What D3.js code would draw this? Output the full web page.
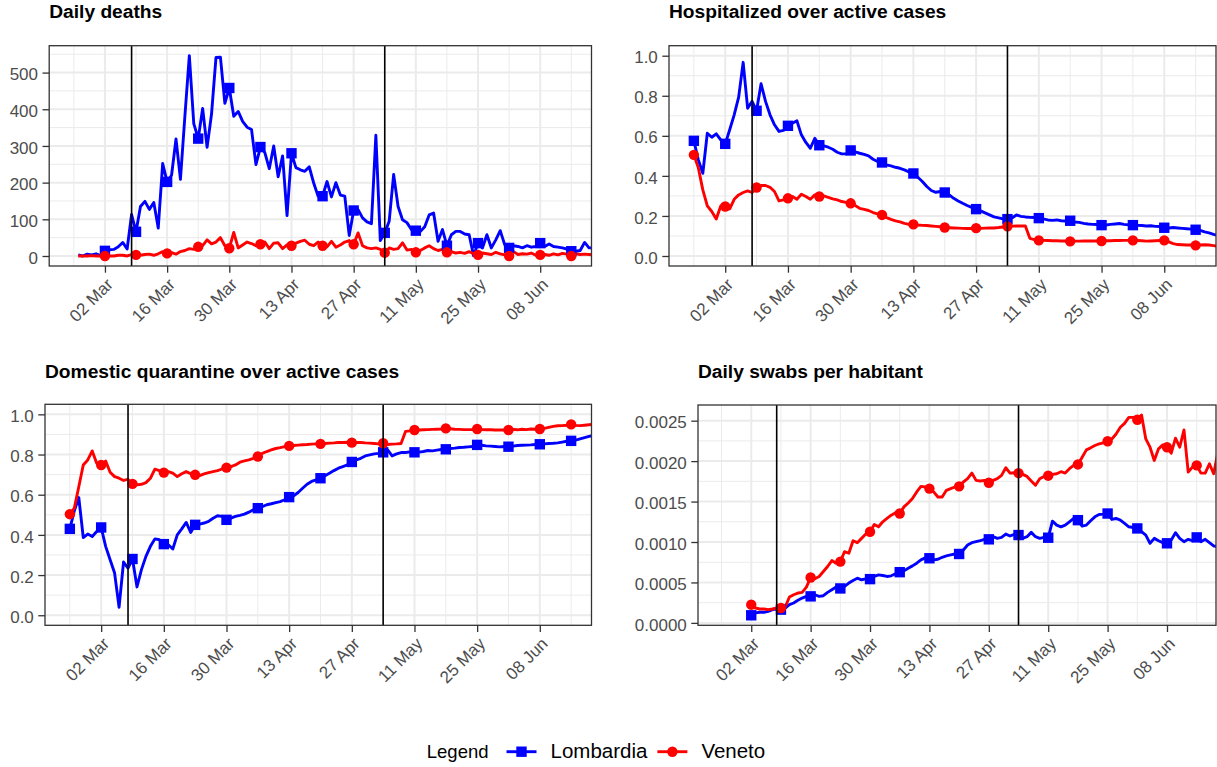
<!DOCTYPE html>
<html>
<head>
<meta charset="utf-8">
<script src="https://cdn.jsdelivr.net/npm/d3@7"></script>
<style>
  body { margin: 0; background: #ffffff; }
  svg { display: block; }
  text { font-family: "Liberation Sans", Arial, Helvetica, sans-serif; }
</style>
</head>
<body>
<svg id="chart" width="1217" height="767"></svg>
<script>
// ---- Data -------------------------------------------------------------
const seriesNames = ["Lombardia", "Veneto"];
const seriesColors = ["#0000FF", "#FF0000"];

const xLimits = ["2020-02-24", "2020-06-14"];
const phaseDates = ["2020-03-08", "2020-05-04"];
const xTickDates = ["2020-03-02", "2020-03-16", "2020-03-30", "2020-04-13",
                    "2020-04-27", "2020-05-11", "2020-05-25", "2020-06-08"];
const markerOrigin = "2020-02-24";   // a marker every 7 days from this date

// Daily deaths, from 25 Feb
const deathsStart = "2020-02-25";
const deathsLombardia = [
  3, 0, 5, 3, 6,
  1, 14, 17, 18, 25, 37, 19, 113, 66, 135, 149, 127, 146, 76, 252, 202, 220, 319, 209, 381, 546, 361, 320, 402, 296, 387, 541, 542, 416, 458, 381,
  394, 367, 351, 345, 249, 297, 282, 238, 300, 216, 273, 110, 280, 241, 235, 231, 243, 199, 163, 163, 203, 161, 200, 166, 163, 56, 124, 126, 104, 93,
  88, 329, 42, 63, 95, 222, 135, 99, 91, 72, 69, 67, 80, 112, 117, 40, 72, 28, 58, 67, 67, 60, 58, 1, 35, 22, 58, 22, 44, 69, 31,
  22, 28, 26, 22, 28, 24, 26, 35, 26, 33, 26, 24, 22, 19, 13, 13, 15, 37, 22, 22
];
const deathsVeneto = [
  0, 0, 0, 1, 0,
  0, 0, 0, 0, 2, 2, 0, 4, 3, 2, 4, 5, 2, 6, 12, 7, 9, 5, 12, 15, 20, 18, 25, 28, 44, 33, 38, 50, 28, 21, 64,
  22, 30, 38, 34, 28, 32, 38, 20, 35, 36, 20, 30, 28, 35, 40, 43, 32, 28, 38, 28, 25, 40, 24, 30, 38, 42, 32, 63, 28, 22,
  20, 22, 18, 9, 22, 18, 20, 36, 16, 18, 10, 15, 22, 28, 20, 15, 18, 10, 12, 8, 10, 7, 12, 6, 3, 8, 6, 4, 10, 6, 3,
  0, 12, 4, 6, 5, 8, 2, 3, 4, 2, 6, 3, 7, 5, 0, 6, 4, 5, 4, 3
];

// Hospitalized over active cases, from 24 Feb
const ratioStart = "2020-02-24";
const hospLombardia = [
  0.575, 0.48, 0.413, 0.613, 0.593, 0.61,
  0.58, 0.56, 0.63, 0.705, 0.793, 0.967, 0.738, 0.772, 0.725, 0.86, 0.772, 0.705, 0.655, 0.622, 0.627, 0.65, 0.663, 0.675, 0.605, 0.567, 0.538, 0.588, 0.553, 0.55, 0.543, 0.533, 0.518, 0.51, 0.51, 0.527, 0.52,
  0.513, 0.507, 0.5, 0.483, 0.472, 0.467, 0.455, 0.45, 0.443, 0.438, 0.43, 0.42, 0.412, 0.393, 0.372, 0.347, 0.327, 0.318, 0.322, 0.317, 0.305, 0.288, 0.275, 0.263, 0.252, 0.243, 0.234, 0.225, 0.215, 0.205,
  0.195, 0.19, 0.185, 0.184, 0.19, 0.205, 0.198, 0.195, 0.193, 0.192, 0.189, 0.185, 0.18, 0.178, 0.18, 0.176, 0.175, 0.176, 0.17, 0.168, 0.163, 0.16, 0.158, 0.157, 0.154, 0.155, 0.158, 0.16, 0.162, 0.158, 0.156,
  0.154, 0.153, 0.152, 0.15, 0.151, 0.148, 0.147, 0.141, 0.14, 0.142, 0.14, 0.138, 0.136, 0.134, 0.131, 0.128, 0.12, 0.115, 0.108, 0.102
];
const hospVeneto = [
  0.505, 0.44, 0.33, 0.25, 0.222, 0.185,
  0.25, 0.247, 0.235, 0.283, 0.305, 0.317, 0.325, 0.317, 0.342, 0.352, 0.352, 0.343, 0.322, 0.275, 0.28, 0.288, 0.297, 0.283, 0.308, 0.297, 0.283, 0.305, 0.297, 0.3, 0.293, 0.285, 0.28, 0.272, 0.268, 0.263, 0.252,
  0.238, 0.233, 0.227, 0.217, 0.21, 0.205, 0.192, 0.183, 0.175, 0.17, 0.163, 0.158, 0.158, 0.155, 0.153, 0.152, 0.15, 0.148, 0.146, 0.142, 0.141, 0.14, 0.139, 0.138, 0.137, 0.137, 0.139, 0.138, 0.139, 0.14,
  0.14, 0.142, 0.145, 0.148, 0.149, 0.15, 0.15, 0.15, 0.088, 0.082, 0.078, 0.078, 0.077, 0.076, 0.076, 0.075, 0.075, 0.073, 0.074, 0.074, 0.075, 0.075, 0.075, 0.075, 0.075, 0.076, 0.076, 0.077, 0.077, 0.078, 0.078,
  0.078, 0.077, 0.076, 0.074, 0.075, 0.076, 0.077, 0.078, 0.07, 0.062, 0.057, 0.056, 0.055, 0.055, 0.053, 0.055, 0.056, 0.055, 0.052, 0.048
];

// Domestic quarantine over active cases, from 24 Feb
const quarLombardia = [
  0.43, 0.52, 0.586, 0.387, 0.404, 0.392,
  0.417, 0.437, 0.343, 0.276, 0.21, 0.04, 0.265, 0.235, 0.28, 0.141, 0.227, 0.293, 0.343, 0.38, 0.376, 0.354, 0.351, 0.33, 0.4, 0.43, 0.462, 0.412, 0.45, 0.454, 0.459, 0.467, 0.483, 0.495, 0.492, 0.475, 0.483,
  0.492, 0.497, 0.503, 0.513, 0.525, 0.533, 0.541, 0.55, 0.555, 0.561, 0.566, 0.575, 0.588, 0.594, 0.611, 0.632, 0.652, 0.666, 0.674, 0.682, 0.694, 0.707, 0.72, 0.732, 0.74, 0.748, 0.763, 0.773, 0.781, 0.793,
  0.798, 0.803, 0.806, 0.811, 0.823, 0.793, 0.803, 0.81, 0.81, 0.813, 0.811, 0.812, 0.815, 0.82, 0.818, 0.822, 0.825, 0.826, 0.83, 0.832, 0.835, 0.836, 0.838, 0.84, 0.848, 0.846, 0.843, 0.842, 0.84, 0.838, 0.84,
  0.839, 0.842, 0.845, 0.846, 0.847, 0.848, 0.85, 0.851, 0.853, 0.855, 0.856, 0.858, 0.862, 0.866, 0.868, 0.872, 0.878, 0.884, 0.89, 0.896
];
const quarVeneto = [
  0.503, 0.533, 0.64, 0.748, 0.773, 0.818,
  0.757, 0.748, 0.768, 0.712, 0.69, 0.682, 0.671, 0.676, 0.654, 0.649, 0.652, 0.66, 0.682, 0.727, 0.72, 0.71, 0.715, 0.707, 0.69, 0.704, 0.715, 0.704, 0.699, 0.695, 0.704, 0.71, 0.715, 0.72, 0.728, 0.735, 0.74,
  0.748, 0.762, 0.768, 0.773, 0.781, 0.79, 0.806, 0.815, 0.823, 0.83, 0.834, 0.839, 0.843, 0.845, 0.847, 0.849, 0.85, 0.852, 0.853, 0.853, 0.855, 0.857, 0.858, 0.86, 0.86, 0.861, 0.859, 0.86, 0.86, 0.858,
  0.857, 0.855, 0.853, 0.856, 0.85, 0.852, 0.853, 0.855, 0.915, 0.918, 0.922, 0.922, 0.923, 0.924, 0.925, 0.926, 0.927, 0.93, 0.928, 0.926, 0.925, 0.924, 0.924, 0.924, 0.927, 0.924, 0.923, 0.923, 0.922, 0.922, 0.922,
  0.922, 0.925, 0.923, 0.926, 0.924, 0.927, 0.926, 0.927, 0.93, 0.935, 0.94, 0.943, 0.944, 0.946, 0.95, 0.945, 0.944, 0.946, 0.948, 0.95
];

// Daily swabs per habitant, from 2 Mar
const swabsStart = "2020-03-02";
const swabsLombardia = [
  0.000094, 0.000123, 0.000131, 0.000131, 0.000143, 0.000164, 0.000172, 0.000164, 0.000184, 0.000225, 0.000246, 0.000279, 0.000307, 0.000328, 0.000328, 0.000348, 0.000328, 0.000336, 0.000377, 0.00041, 0.000443, 0.000426, 0.000451, 0.000492, 0.000525, 0.000553, 0.000533, 0.000545, 0.000541, 0.000574,
  0.000594, 0.000586, 0.000574, 0.000582, 0.000607, 0.000627, 0.000643, 0.000676, 0.000705, 0.000738, 0.000779, 0.000803, 0.000799, 0.000779, 0.000787, 0.000811, 0.000828, 0.00084, 0.000852, 0.000852, 0.000902, 0.000963, 0.000992, 0.001004, 0.001016, 0.001033, 0.001033, 0.001066, 0.001045, 0.001057,
  0.001098, 0.001074, 0.001094, 0.001086, 0.001045, 0.001066, 0.001119, 0.001066, 0.001045, 0.001057, 0.001053, 0.001258, 0.001209, 0.001188, 0.001209, 0.00125, 0.001291, 0.00127, 0.001197, 0.001209, 0.001262, 0.001311, 0.00134, 0.001344, 0.001352, 0.001279, 0.001291, 0.00127, 0.001229, 0.001188, 0.00118,
  0.001168, 0.001127, 0.001086, 0.000984, 0.001045, 0.001016, 0.000992, 0.000984, 0.001025, 0.001115, 0.001045, 0.001004, 0.001033, 0.001016, 0.001057, 0.001004, 0.001033, 0.000992, 0.000951, 0.000943
];
const swabsVeneto = [
  0.000225, 0.000184, 0.000172, 0.000172, 0.000164, 0.000172, 0.000184, 0.000184, 0.000197, 0.00032, 0.000348, 0.000369, 0.000377, 0.000443, 0.000561, 0.000545, 0.000574, 0.000635, 0.000697, 0.00077, 0.000738, 0.000758, 0.000881, 0.000861, 0.001016, 0.000992, 0.001045, 0.001098, 0.001127, 0.001217,
  0.001188, 0.00125, 0.001291, 0.001332, 0.001361, 0.001352, 0.001434, 0.001483, 0.001537, 0.001619, 0.001688, 0.00168, 0.00166, 0.001619, 0.001557, 0.001557, 0.001639, 0.00166, 0.00168, 0.001688, 0.001742, 0.001783, 0.001852, 0.001762, 0.001754, 0.001762, 0.001733, 0.001762, 0.001783, 0.001824,
  0.001918, 0.001852, 0.001856, 0.001852, 0.001836, 0.001811, 0.001754, 0.001701, 0.001783, 0.001811, 0.00182, 0.001836, 0.001844, 0.001869, 0.001852, 0.001906, 0.001947, 0.001959, 0.002049, 0.002139, 0.002164, 0.002193, 0.002213, 0.002225, 0.002246, 0.002274, 0.002336, 0.002418, 0.002467, 0.002541, 0.002541,
  0.002512, 0.00257, 0.002274, 0.002172, 0.002008, 0.002152, 0.002201, 0.002172, 0.002098, 0.002283, 0.002172, 0.002385, 0.001865, 0.001926, 0.001947, 0.001852, 0.001852, 0.001967, 0.001844, 0.00211
];

const deathsTicks = [0, 100, 200, 300, 400, 500];
const ratioTicks = [0, 0.2, 0.4, 0.6, 0.8, 1.0];
const swabsTicks = [0, 0.0005, 0.001, 0.0015, 0.002, 0.0025];

// ---- Layout -----------------------------------------------------------
const parseDay = d3.timeParse("%Y-%m-%d");
const svg = d3.select("#chart");

const panels = [
  { title: "Daily deaths", start: deathsStart, series: [deathsLombardia, deathsVeneto],
    yFixed: null, yTicks: deathsTicks, fmt: d3.format("d"),
    box: { x0: 49.2, x1: 591.5, y0: 45.7, y1: 266 }, titleY: 18.3 },
  { title: "Hospitalized over active cases", start: ratioStart, series: [hospLombardia, hospVeneto],
    yFixed: [0, 1], yTicks: ratioTicks, fmt: d3.format(".1f"),
    box: { x0: 669, x1: 1216, y0: 45.7, y1: 266 }, titleY: 18.3 },
  { title: "Domestic quarantine over active cases", start: ratioStart, series: [quarLombardia, quarVeneto],
    yFixed: [0, 1], yTicks: ratioTicks, fmt: d3.format(".1f"),
    box: { x0: 45, x1: 591.5, y0: 404.3, y1: 625.3 }, titleY: 377.5 },
  { title: "Daily swabs per habitant", start: swabsStart, series: [swabsLombardia, swabsVeneto],
    yFixed: null, yTicks: swabsTicks, fmt: d3.format(".4f"),
    box: { x0: 698, x1: 1216, y0: 405, y1: 625.3 }, titleY: 378.3 }
];

const GRID = "#EBEBEB", INK = "#333333", LABEL = "#4D4D4D";
const TICK = 6.7;
const LINE_W = 2.9;

// ggplot-like 5% expansion of a continuous range
function expand(lo, hi, f = 0.05) {
  const pad = (hi - lo) * f;
  return [lo - pad, hi + pad];
}

const xLo = parseDay(xLimits[0]), xHi = parseDay(xLimits[1]);
const xSpan = xHi - xLo;
const xDomain = [new Date(+xLo - xSpan * 0.05), new Date(+xHi + xSpan * 0.05)];
const xMajor = xTickDates.map(parseDay);
const xMinor = xMajor.map(d => d3.timeDay.offset(d, -7))
  .concat([d3.timeDay.offset(xMajor[xMajor.length - 1], 7)])
  .filter(d => d >= xDomain[0] && d <= xDomain[1]);
const origin = parseDay(markerOrigin);

panels.forEach((p, pi) => {
  const b = p.box;
  const g = svg.append("g");
  const start = parseDay(p.start);

  const data = p.series.map(vals => vals.map((v, i) => ({ date: d3.timeDay.offset(start, i), v })));
  const all = p.series.flat();
  const yDomain = p.yFixed ? expand(p.yFixed[0], p.yFixed[1]) : expand(d3.min(all), d3.max(all));

  const x = d3.scaleTime().domain(xDomain).range([b.x0, b.x1]);
  const y = d3.scaleLinear().domain(yDomain).range([b.y1, b.y0]);

  const step = p.yTicks[1] - p.yTicks[0];
  const yMinor = [p.yTicks[0] - step / 2].concat(p.yTicks.map(t => t + step / 2))
    .filter(v => v >= yDomain[0] && v <= yDomain[1]);

  const clipId = "clip" + pi;
  svg.append("clipPath").attr("id", clipId)
    .append("rect").attr("x", b.x0).attr("y", b.y0)
    .attr("width", b.x1 - b.x0).attr("height", b.y1 - b.y0);

  const grid = g.append("g");
  grid.selectAll(".vmin").data(xMinor).join("line")
    .attr("x1", d => x(d)).attr("x2", d => x(d)).attr("y1", b.y0).attr("y2", b.y1)
    .attr("stroke", GRID).attr("stroke-width", 1);
  grid.selectAll(".hmin").data(yMinor).join("line")
    .attr("x1", b.x0).attr("x2", b.x1).attr("y1", d => y(d)).attr("y2", d => y(d))
    .attr("stroke", GRID).attr("stroke-width", 1);
  grid.selectAll(".vmaj").data(xMajor).join("line")
    .attr("x1", d => x(d)).attr("x2", d => x(d)).attr("y1", b.y0).attr("y2", b.y1)
    .attr("stroke", GRID).attr("stroke-width", 2);
  grid.selectAll(".hmaj").data(p.yTicks).join("line")
    .attr("x1", b.x0).attr("x2", b.x1).attr("y1", d => y(d)).attr("y2", d => y(d))
    .attr("stroke", GRID).attr("stroke-width", 2);

  const plot = g.append("g").attr("clip-path", `url(#${clipId})`);
  const line = d3.line().x(d => x(d.date)).y(d => y(d.v));

  data.forEach((s, si) => {
    plot.append("path").datum(s)
      .attr("d", line).attr("fill", "none")
      .attr("stroke", seriesColors[si]).attr("stroke-width", LINE_W)
      .attr("stroke-linejoin", "round").attr("stroke-linecap", "butt");
  });

  data.forEach((s, si) => {
    const pts = s.filter(d => Math.round((d.date - origin) / 864e5) % 7 === 0);
    if (si === 0) {
      plot.selectAll(null).data(pts).join("rect")
        .attr("x", d => x(d.date) - 5.2).attr("y", d => y(d.v) - 5.2)
        .attr("width", 10.4).attr("height", 10.4).attr("fill", seriesColors[si]);
    } else {
      plot.selectAll(null).data(pts).join("circle")
        .attr("cx", d => x(d.date)).attr("cy", d => y(d.v)).attr("r", 5.2)
        .attr("fill", seriesColors[si]);
    }
  });

  plot.selectAll(".phase").data(phaseDates.map(parseDay)).join("line")
    .attr("x1", d => x(d)).attr("x2", d => x(d)).attr("y1", b.y0).attr("y2", b.y1)
    .attr("stroke", "#000000").attr("stroke-width", 1.6);

  g.append("rect").attr("x", b.x0).attr("y", b.y0)
    .attr("width", b.x1 - b.x0).attr("height", b.y1 - b.y0)
    .attr("fill", "none").attr("stroke", INK).attr("stroke-width", 1.3);

  // axes
  const ya = g.append("g").attr("transform", `translate(${b.x0},0)`)
    .call(d3.axisLeft(y).tickValues(p.yTicks).tickFormat(p.fmt).tickSize(TICK).tickPadding(4.5));
  ya.select(".domain").remove();
  ya.selectAll(".tick line").attr("stroke", INK).attr("stroke-width", 1.3);
  ya.selectAll(".tick text").attr("fill", LABEL).attr("font-size", 17).attr("dy", "0.42em")
    .style("font-family", '"Liberation Sans", Arial, Helvetica, sans-serif');

  const xa = g.append("g").attr("transform", `translate(0,${b.y1})`)
    .call(d3.axisBottom(x).tickValues(xMajor).tickFormat(d3.timeFormat("%d %b")).tickSize(TICK));
  xa.select(".domain").remove();
  xa.selectAll(".tick line").attr("stroke", INK).attr("stroke-width", 1.3);
  xa.selectAll(".tick text").attr("fill", LABEL).attr("font-size", 17)
    .attr("x", 0).attr("y", 0).attr("dy", 0)
    .attr("text-anchor", "end")
    .attr("transform", "translate(8.5,19.5) rotate(-45)")
    .style("font-family", '"Liberation Sans", Arial, Helvetica, sans-serif');

  g.append("text").attr("x", b.x0).attr("y", p.titleY)
    .attr("font-size", 19.2).attr("font-weight", "bold").attr("fill", "#000")
    .text(p.title);
});

// ---- Legend -----------------------------------------------------------
const legend = svg.append("g");
const legendBase = 757.7, keyY = 751.7, legendCenter = 596;
const lTitle = legend.append("text").attr("y", legendBase).attr("font-size", 18.5).attr("fill", "#000").text("Legend");
const labels = seriesNames.map(n => legend.append("text").attr("y", legendBase).attr("font-size", 20.5).attr("fill", "#000").text(n));
const titleW = lTitle.node().getComputedTextLength();
const labelW = labels.map(t => t.node().getComputedTextLength());
const keyW = 30, gapTitle = 18, gapKey = 14, gapItem = 10;
const total = titleW + gapTitle + labelW.reduce((a, w) => a + keyW + gapKey + w, 0) + gapItem;
let cx = legendCenter - total / 2;
lTitle.attr("x", cx);
cx += titleW + gapTitle;
seriesNames.forEach((n, i) => {
  legend.append("line").attr("x1", cx).attr("x2", cx + keyW).attr("y1", keyY).attr("y2", keyY)
    .attr("stroke", seriesColors[i]).attr("stroke-width", LINE_W);
  if (i === 0) {
    legend.append("rect").attr("x", cx + keyW / 2 - 5.2).attr("y", keyY - 5.2)
      .attr("width", 10.4).attr("height", 10.4).attr("fill", seriesColors[i]);
  } else {
    legend.append("circle").attr("cx", cx + keyW / 2).attr("cy", keyY).attr("r", 5.2)
      .attr("fill", seriesColors[i]);
  }
  cx += keyW + gapKey;
  labels[i].attr("x", cx);
  cx += labelW[i] + gapItem;
});
</script>
</body>
</html>
